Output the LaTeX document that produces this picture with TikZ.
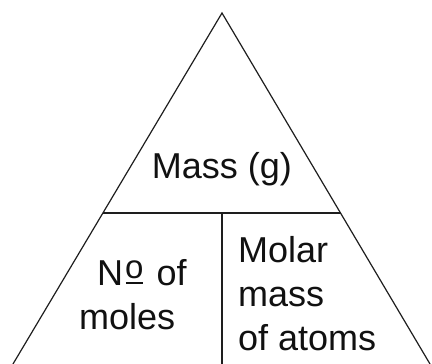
\documentclass[tikz,border=0pt]{standalone}
\usepackage{fontspec}
\setmainfont{Liberation Sans}
\usetikzlibrary{calc}
\definecolor{edgeln}{HTML}{1E1E1E}
\definecolor{celltxt}{HTML}{111111}
\tikzset{cellfont/.style={celltxt,font=\fontsize{36}{44}\selectfont,inner sep=0pt}}
\newcommand{\numsign}{N\kern2pt\ooalign{\raisebox{7pt}{\fontsize{33}{33}\selectfont o}\cr\hidewidth\rule[1.2pt]{17pt}{1.8pt}\hidewidth\cr}\kern3pt}

\begin{document}
\begin{tikzpicture}[x=1pt,y=-1pt]
    \useasboundingbox (0,0) rectangle (432,364);
    \coordinate (apex) at (222,13);
    \coordinate (baseL) at (13,364);
    \coordinate (baseR) at (430,364);
    \coordinate (midL) at ($(apex)!0.57!(baseL)$);
    \coordinate (midR) at ($(apex)!0.57!(baseR)$);
    \coordinate (midC) at (apex |- midL);
    \coordinate (baseC) at (apex |- baseL);
    \draw[edgeln,line width=1.2pt] (baseL) -- (apex) -- (baseR);
    \draw[edgeln,line width=1.2pt] (midL) -- (midR);
    \draw[edgeln,line width=1.2pt] (midC) -- (baseC);
    \node[cellfont,anchor=base] (mass) at (222,178) {Mass (g)};
    \node[cellfont,anchor=north west,align=left] (moles) at (79,259) {\hspace*{18pt}\numsign{} of\\moles};
    \node[cellfont,anchor=north west,align=left] (molar) at (238,236) {Molar\\mass\\of atoms};
  \end{tikzpicture}
\end{document}
